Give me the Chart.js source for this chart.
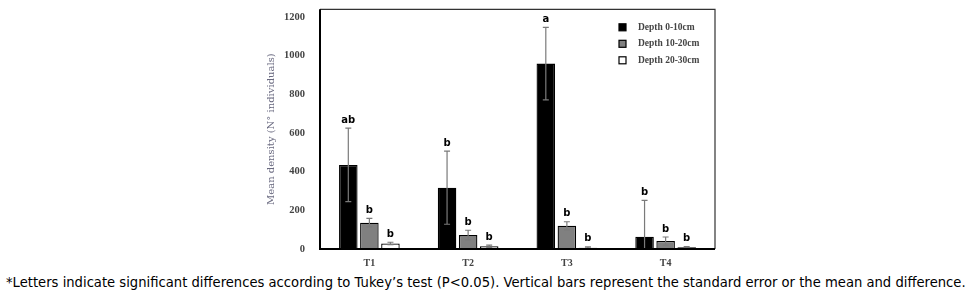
<!DOCTYPE html>
<html>
<head>
<meta charset="utf-8">
<script src="https://cdn.jsdelivr.net/npm/chart.js@4.4.0/dist/chart.umd.min.js"></script>
<style>
    body { margin: 0; background: #fff; width: 979px; height: 308px; overflow: hidden; position: relative; }
    #wrap { position: absolute; left: 0; top: 0; width: 979px; height: 270px; }
    #note { position: absolute; left: 6px; top: 275px; font-family: "DejaVu Sans", Verdana, sans-serif; font-size: 12px; color: #000; white-space: nowrap; }
</style>
</head>
<body>
<div id="wrap"><canvas id="densitychart"></canvas></div>
<div id="note">*Letters indicate significant differences according to Tukey’s test (P&lt;0.05). Vertical bars represent the standard error or the mean and difference.</div>
<script>
"use strict";

/* data */
var groups = ['T1', 'T2', 'T3', 'T4'];
var depthLabels = ['Depth 0-10cm', 'Depth 10-20cm', 'Depth 20-30cm'];
var depth0_10 = [435, 317, 959, 64];
var depth10_20 = [136, 72, 120, 41];
var depth20_30 = [29, 14, 7, 9];
var err0_10 = [190, 189, 188, 188];
var err10_20 = [22, 25, 21, 21];
var err20_30 = [6, 6, 4, 4];
var letters0_10 = ['ab', 'b', 'a', 'b'];
var letters10_20 = ['b', 'b', 'b', 'b'];
var letters20_30 = ['b', 'b', 'b', 'b'];
var yTicks = [0, 200, 400, 600, 800, 1000, 1200];

var fills = ['#000000', '#808080', '#ffffff'];
var errs = [err0_10, err10_20, err20_30];
var letters = [letters0_10, letters10_20, letters20_30];

/* error bars, letters, frame and legend */
var extras = {
    id: 'extras',
    afterDatasetsDraw: function (chart) {
        var ctx = chart.ctx;
        var y = chart.scales.y;
        var area = chart.chartArea;
        ctx.save();
        chart.data.datasets.forEach(function (ds, i) {
            var meta = chart.getDatasetMeta(i);
            meta.data.forEach(function (bar, j) {
                var v = ds.data[j];
                var top = y.getPixelForValue(v + errs[i][j]);
                var bot = y.getPixelForValue(Math.max(0, v - errs[i][j]));
                ctx.strokeStyle = '#7a7a7a';
                ctx.lineWidth = 1.2;
                ctx.beginPath();
                ctx.moveTo(bar.x, top); ctx.lineTo(bar.x, bot);
                ctx.moveTo(bar.x - 3, top); ctx.lineTo(bar.x + 3, top);
                ctx.moveTo(bar.x - 3, bot); ctx.lineTo(bar.x + 3, bot);
                ctx.stroke();
                ctx.fillStyle = '#000';
                ctx.font = 'bold 10px "DejaVu Sans"';
                ctx.textAlign = 'center';
                ctx.textBaseline = 'bottom';
                ctx.fillText(letters[i][j], bar.x, top - 3);
            });
        });
        /* frame */
        ctx.strokeStyle = '#333';
        ctx.lineWidth = 1.2;
        ctx.beginPath();
        ctx.moveTo(area.left, area.top); ctx.lineTo(area.right, area.top); ctx.lineTo(area.right, area.bottom);
        ctx.stroke();
        ctx.strokeStyle = '#000';
        ctx.lineWidth = 2;
        ctx.beginPath();
        ctx.moveTo(area.left, area.top); ctx.lineTo(area.left, area.bottom); ctx.lineTo(area.right, area.bottom);
        ctx.stroke();
        /* legend */
        ctx.font = 'bold 9.5px "Liberation Serif"';
        ctx.textAlign = 'left';
        ctx.textBaseline = 'middle';
        depthLabels.forEach(function (lab, i) {
            var ly = area.top + 18 + i * 16.5;
            ctx.fillStyle = fills[i];
            ctx.fillRect(area.right - 96, ly - 3.5, 7, 7);
            ctx.strokeStyle = '#000';
            ctx.lineWidth = 1.2;
            ctx.strokeRect(area.right - 96, ly - 3.5, 7, 7);
            ctx.fillStyle = '#444';
            ctx.fillText(lab, area.right - 77, ly);
        });
        ctx.restore();
    }
};

document.addEventListener("DOMContentLoaded", function () {
    var series = [depth0_10, depth10_20, depth20_30];
    var cfg = {
        type: 'bar',
        data: {
            labels: groups,
            datasets: series.map(function (s, i) {
                return {
                    label: depthLabels[i],
                    data: s,
                    backgroundColor: fills[i],
                    borderColor: '#000',
                    borderWidth: 1.3,
                    barPercentage: 0.88,
                    categoryPercentage: 0.64
                };
            })
        },
        options: {
            animation: false,
            responsive: true,
            maintainAspectRatio: false,
            layout: { padding: { left: 265, right: 264, top: 9, bottom: 0 } },
            plugins: {
                legend: { display: false },
                tooltip: { enabled: false }
            },
            scales: {
                x: {
                    grid: { display: false, drawTicks: false },
                    border: { display: false },
                    afterFit: function (scale) { scale.height = 21; },
                    ticks: { padding: 8, color: '#444', font: { family: 'Liberation Serif', size: 10, weight: 'bold' } }
                },
                y: {
                    min: 0,
                    max: 1240,
                    grid: { display: false, drawTicks: false },
                    border: { display: false },
                    afterFit: function (scale) { scale.width = 55; },
                    afterBuildTicks: function (scale) {
                        scale.ticks = yTicks.map(function (v) { return { value: v }; });
                    },
                    ticks: {
                        padding: 15,
                        color: '#444',
                        font: { family: 'Liberation Serif', size: 10.5, weight: 'bold' },
                        callback: function (v) { return String(v); }
                    },
                    title: {
                        display: true,
                        text: 'Mean density (N° individuals)',
                        color: '#6a6a80',
                        padding: 0,
                        font: { family: 'DejaVu Serif', size: 10 }
                    }
                }
            }
        },
        plugins: [extras]
    };
    var chart = new Chart(document.getElementById('densitychart'), cfg);

    /* pull the plot top up to the reference position if layout pushed it down */
    var extra = chart.chartArea.top - 9;
    if (extra > 0.5) {
        var wrap = document.getElementById('wrap');
        wrap.style.top = (-extra) + 'px';
        wrap.style.height = (270 + extra) + 'px';
        chart.resize();
    }

    /* fit caption to the reference width */
    var note = document.getElementById('note');
    var w = note.getBoundingClientRect().width;
    note.style.fontSize = (12 * 960 / w).toFixed(2) + 'px';
});
</script>
</body>
</html>
